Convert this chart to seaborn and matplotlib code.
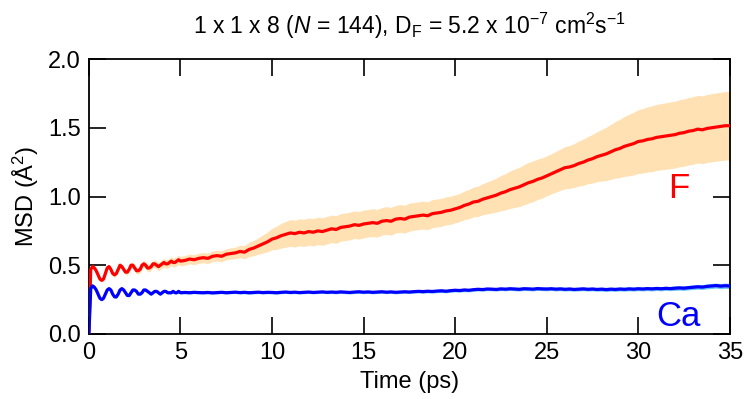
import numpy as np
import pandas as pd
import matplotlib
matplotlib.use("Agg")
import matplotlib.pyplot as plt
import seaborn as sns

# ---------------- data ----------------
time_early = np.linspace(0, 5, 51)
time_late = np.linspace(5.25, 35, 120)

f_early = [0.00, 0.47, 0.49, 0.48, 0.46, 0.43, 0.40, 0.39, 0.40, 0.44,
           0.48, 0.49, 0.47, 0.44, 0.43, 0.44, 0.47, 0.50, 0.49, 0.47,
           0.45, 0.45, 0.47, 0.50, 0.50, 0.48, 0.46, 0.46, 0.47, 0.50,
           0.51, 0.50, 0.48, 0.48, 0.49, 0.51, 0.51, 0.50, 0.49, 0.50,
           0.51, 0.52, 0.51, 0.51, 0.52, 0.53, 0.52, 0.52, 0.53, 0.54,
           0.53]
f_late = [0.535, 0.545, 0.540, 0.550, 0.555, 0.550, 0.565, 0.570,
          0.565, 0.580, 0.585, 0.590, 0.600, 0.595, 0.615, 0.625,
          0.640, 0.655, 0.670, 0.690, 0.700, 0.715, 0.725, 0.735,
          0.730, 0.740, 0.735, 0.745, 0.740, 0.750, 0.745, 0.755,
          0.765, 0.760, 0.775, 0.780, 0.785, 0.795, 0.790, 0.800,
          0.805, 0.810, 0.805, 0.820, 0.825, 0.820, 0.835, 0.840,
          0.835, 0.850, 0.855, 0.860, 0.865, 0.860, 0.875, 0.880,
          0.885, 0.895, 0.900, 0.910, 0.920, 0.935, 0.945, 0.960,
          0.965, 0.980, 0.990, 1.000, 1.010, 1.025, 1.035, 1.050,
          1.060, 1.070, 1.085, 1.100, 1.110, 1.125, 1.135, 1.150,
          1.165, 1.180, 1.195, 1.210, 1.215, 1.225, 1.240, 1.250,
          1.265, 1.275, 1.290, 1.300, 1.310, 1.325, 1.340, 1.350,
          1.365, 1.375, 1.385, 1.400, 1.405, 1.415, 1.420, 1.430,
          1.435, 1.440, 1.445, 1.450, 1.460, 1.465, 1.475, 1.480,
          1.490, 1.485, 1.495, 1.500, 1.505, 1.510, 1.515, 1.515]

f_err_early = [0.000, 0.010, 0.012, 0.012, 0.013, 0.013, 0.014, 0.014, 0.015, 0.015,
               0.016, 0.016, 0.017, 0.017, 0.018, 0.018, 0.019, 0.019, 0.020, 0.020,
               0.021, 0.021, 0.022, 0.022, 0.023, 0.023, 0.024, 0.024, 0.025, 0.025,
               0.026, 0.026, 0.027, 0.027, 0.028, 0.028, 0.029, 0.029, 0.030, 0.030,
               0.031, 0.031, 0.031, 0.032, 0.032, 0.032, 0.033, 0.033, 0.033, 0.034,
               0.034]
f_err_late = [0.035, 0.035, 0.036, 0.037, 0.037, 0.038, 0.038, 0.039,
              0.040, 0.040, 0.041, 0.042, 0.045, 0.048, 0.052, 0.056,
              0.060, 0.066, 0.072, 0.078, 0.085, 0.090, 0.094, 0.097,
              0.098, 0.098, 0.099, 0.099, 0.099, 0.100, 0.100, 0.100,
              0.100, 0.101, 0.100, 0.100, 0.101, 0.100, 0.100, 0.101,
              0.100, 0.101, 0.101, 0.100, 0.101, 0.101, 0.100, 0.101,
              0.101, 0.102, 0.101, 0.101, 0.102, 0.101, 0.102, 0.102,
              0.101, 0.102, 0.102, 0.102, 0.102, 0.104, 0.106, 0.108,
              0.110, 0.113, 0.116, 0.120, 0.124, 0.128, 0.132, 0.136,
              0.140, 0.143, 0.146, 0.148, 0.148, 0.147, 0.146, 0.145,
              0.146, 0.148, 0.150, 0.153, 0.156, 0.160, 0.164, 0.168,
              0.172, 0.177, 0.182, 0.188, 0.194, 0.200, 0.206, 0.212,
              0.218, 0.224, 0.228, 0.232, 0.235, 0.237, 0.239, 0.240,
              0.241, 0.242, 0.243, 0.243, 0.244, 0.245, 0.245, 0.246,
              0.246, 0.247, 0.247, 0.248, 0.248, 0.249, 0.249, 0.250]

ca_early = [0.00, 0.33, 0.35, 0.34, 0.32, 0.29, 0.26, 0.25, 0.26, 0.29,
            0.32, 0.33, 0.32, 0.29, 0.27, 0.27, 0.29, 0.32, 0.33, 0.32,
            0.30, 0.28, 0.28, 0.30, 0.32, 0.32, 0.31, 0.29, 0.29, 0.30,
            0.32, 0.32, 0.31, 0.30, 0.29, 0.30, 0.31, 0.31, 0.30, 0.29,
            0.30, 0.31, 0.31, 0.30, 0.30, 0.30, 0.31, 0.30, 0.30, 0.31,
            0.30]
ca_late = [0.302, 0.300, 0.303, 0.301, 0.300, 0.302, 0.299, 0.301,
           0.303, 0.300, 0.302, 0.304, 0.301, 0.303, 0.300, 0.302,
           0.304, 0.301, 0.303, 0.302, 0.300, 0.303, 0.305, 0.302,
           0.304, 0.301, 0.303, 0.305, 0.302, 0.304, 0.306, 0.303,
           0.305, 0.303, 0.306, 0.304, 0.302, 0.305, 0.307, 0.304,
           0.306, 0.303, 0.305, 0.307, 0.304, 0.306, 0.303, 0.305,
           0.307, 0.305, 0.308, 0.310, 0.308, 0.311, 0.309, 0.312,
           0.314, 0.311, 0.315, 0.318, 0.316, 0.320, 0.318, 0.322,
           0.325, 0.323, 0.327, 0.326, 0.324, 0.328, 0.326, 0.329,
           0.327, 0.325, 0.329, 0.328, 0.326, 0.330, 0.328, 0.327,
           0.329, 0.326, 0.328, 0.325, 0.327, 0.324, 0.326, 0.328,
           0.325, 0.327, 0.324, 0.326, 0.323, 0.326, 0.324, 0.327,
           0.325, 0.328, 0.326, 0.329, 0.327, 0.330, 0.328, 0.331,
           0.329, 0.332, 0.330, 0.333, 0.335, 0.333, 0.337, 0.340,
           0.343, 0.341, 0.346, 0.349, 0.352, 0.348, 0.351, 0.349]

ca_err_early = [0.000, 0.007, 0.007, 0.008, 0.008, 0.008, 0.008, 0.008, 0.008, 0.008,
                0.008, 0.008, 0.008, 0.008, 0.009, 0.009, 0.009, 0.009, 0.009, 0.009,
                0.009, 0.009, 0.009, 0.009, 0.009, 0.009, 0.009, 0.009, 0.009, 0.009,
                0.009, 0.009, 0.009, 0.009, 0.009, 0.009, 0.009, 0.009, 0.009, 0.009,
                0.009, 0.009, 0.009, 0.009, 0.009, 0.009, 0.009, 0.009, 0.009, 0.009,
                0.009]
ca_err_late = [0.009, 0.009, 0.009, 0.009, 0.009, 0.009, 0.009, 0.009,
               0.009, 0.009, 0.009, 0.009, 0.010, 0.010, 0.010, 0.010,
               0.010, 0.010, 0.010, 0.010, 0.010, 0.010, 0.010, 0.010,
               0.010, 0.010, 0.010, 0.010, 0.010, 0.010, 0.010, 0.010,
               0.011, 0.011, 0.011, 0.011, 0.011, 0.011, 0.011, 0.011,
               0.011, 0.011, 0.011, 0.011, 0.011, 0.011, 0.011, 0.011,
               0.011, 0.011, 0.011, 0.011, 0.012, 0.012, 0.012, 0.012,
               0.012, 0.012, 0.012, 0.012, 0.012, 0.012, 0.012, 0.012,
               0.012, 0.012, 0.012, 0.012, 0.012, 0.012, 0.012, 0.012,
               0.013, 0.013, 0.013, 0.013, 0.013, 0.013, 0.013, 0.013,
               0.013, 0.013, 0.013, 0.013, 0.013, 0.013, 0.013, 0.013,
               0.013, 0.013, 0.013, 0.014, 0.014, 0.014, 0.014, 0.014,
               0.014, 0.014, 0.014, 0.014, 0.014, 0.015, 0.015, 0.015,
               0.015, 0.015, 0.015, 0.016, 0.016, 0.016, 0.016, 0.017,
               0.017, 0.017, 0.018, 0.018, 0.018, 0.019, 0.019, 0.019]

x_ticks = [0, 5, 10, 15, 20, 25, 30, 35]
y_ticks = [0.0, 0.5, 1.0, 1.5, 2.0]

# ---------------- build table ----------------
time = np.concatenate([time_early, time_late])
f_msd = np.array(f_early + f_late)
f_err = np.array(f_err_early + f_err_late)
ca_msd = np.array(ca_early + ca_late)
ca_err = np.array(ca_err_early + ca_err_late)

df = pd.DataFrame({
    "time": np.concatenate([time, time]),
    "msd": np.concatenate([f_msd, ca_msd]),
    "species": ["F"] * len(time) + ["Ca"] * len(time),
})

# ---------------- style ----------------
sns.set_style("ticks")
plt.rcParams["font.family"] = ["Liberation Sans", "DejaVu Sans"]
plt.rcParams["mathtext.fontset"] = "custom"
plt.rcParams["mathtext.rm"] = "Liberation Sans"
plt.rcParams["mathtext.it"] = "Liberation Sans:italic"
plt.rcParams["mathtext.bf"] = "Liberation Sans:bold"
plt.rcParams["text.color"] = "black"
plt.rcParams["axes.labelcolor"] = "black"
plt.rcParams["xtick.color"] = "black"
plt.rcParams["ytick.color"] = "black"

fig = plt.figure(figsize=(7.47, 3.99), dpi=100)
ax = fig.add_axes([0.119, 0.163, 0.858, 0.689])

ax.fill_between(time, f_msd - f_err, f_msd + f_err, color="#ffe1b4", lw=0, zorder=1)
ax.fill_between(time, ca_msd - ca_err, ca_msd + ca_err, color="#6cc8f4", lw=0, zorder=1)

sns.lineplot(data=df, x="time", y="msd", hue="species",
             palette={"F": "#ff0000", "Ca": "#0000ff"},
             linewidth=2.3, legend=False, ax=ax, zorder=3)

ax.set_xlim(0, 35)
ax.set_ylim(0, 2.0)
ax.set_xticks(x_ticks)
ax.set_yticks(y_ticks)
ax.set_xticklabels([str(v) for v in x_ticks])
ax.set_yticklabels([f"{v:.1f}" for v in y_ticks])
ax.tick_params(direction="in", length=12, width=1.2, top=True, right=True,
               labelsize=17, colors="black", pad=6)
for s in ax.spines.values():
    s.set_linewidth(1.3)
    s.set_color("black")

ax.set_xlabel("Time (ps)", fontsize=17, labelpad=5, color="black")
ax.set_ylabel("MSD (Å$^2$)", fontsize=17, labelpad=5, color="black")
ax.set_title(r"1 x 1 x 8 ($N$ = 144), D$_\mathrm{F}$ = 5.2 x 10$^{-7}$ cm$^2$s$^{-1}$",
             fontsize=16.5, pad=18, color="black")

ax.text(32.2, 1.06, "F", color="#ff0000", fontsize=25, ha="center", va="center")
ax.text(32.2, 0.13, "Ca", color="#0000ff", fontsize=25, ha="center", va="center")

fig.savefig("out.png", dpi=100)
